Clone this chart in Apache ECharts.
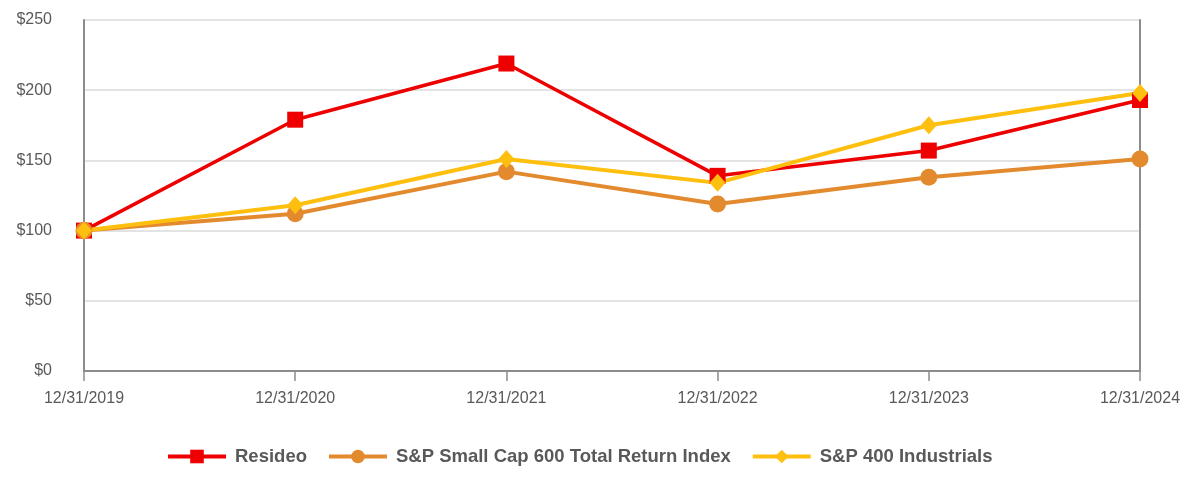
<!DOCTYPE html>
<html><head><meta charset="utf-8">
<script src="https://cdn.jsdelivr.net/npm/echarts@6/dist/echarts.min.js"></script>
<style>html,body{margin:0;padding:0;background:#fff}#c{width:1200px;height:500px}</style>
</head><body><div id="c"></div>
<script>
const categories = ["12/31/2019","12/31/2020","12/31/2021","12/31/2022","12/31/2023","12/31/2024"];
const resideo = [100, 179, 219, 139, 157, 193];
const smallCap600 = [100, 112, 142, 119, 138, 151];
const sp400Industrials = [100, 118, 151, 134, 175, 198];
const yTicks = [0, 50, 100, 150, 200, 250];

const chart = echarts.init(document.getElementById('c'));
const font = 'Liberation Sans, Arial, sans-serif';
const axisGray = '#8c8c8c';
chart.setOption({
  animation: false,
  grid: {left: 84, right: 60, top: 20, bottom: 129},
  legend: {
    top: 442, left: 161, itemWidth: 58, itemHeight: 17, itemGap: 20,
    lineStyle: {width: 4},
    textStyle: {fontFamily: font, fontSize: 18.5, fontWeight: 'bold', color: '#595959', padding: [0, 0, 0, 4]},
    data: ['Resideo', 'S&P Small Cap 600 Total Return Index', 'S&P 400 Industrials']
  },
  xAxis: [{
    type: 'category', data: categories, boundaryGap: false,
    axisLine: {lineStyle: {color: axisGray, width: 2}},
    axisTick: {show: true, length: 10, lineStyle: {color: axisGray, width: 1.5}},
    axisLabel: {fontFamily: font, fontSize: 16, color: '#595959', margin: 20}
  }, {
    type: 'category', data: categories, boundaryGap: false, position: 'top',
    axisLine: {show: true, lineStyle: {color: axisGray, width: 2}},
    axisTick: {show: false}, axisLabel: {show: false}, splitLine: {show: false}
  }],
  yAxis: [{
    type: 'value', min: yTicks[0], max: yTicks[yTicks.length-1], interval: 50,
    axisLine: {show: true, lineStyle: {color: axisGray, width: 2}},
    axisTick: {show: false},
    splitLine: {lineStyle: {color: '#e3e3e3', width: 2}},
    axisLabel: {fontFamily: font, fontSize: 16, color: '#595959', margin: 32, formatter: v => '$' + v}
  }, {
    type: 'value', min: yTicks[0], max: yTicks[yTicks.length-1], interval: 50, position: 'right',
    axisLine: {show: true, lineStyle: {color: axisGray, width: 2}},
    axisTick: {show: false}, axisLabel: {show: false}, splitLine: {show: false}
  }],
  series: [
    {name: 'Resideo', type: 'line', data: resideo, symbol: 'rect', symbolSize: 16,
     lineStyle: {color: '#ee0000', width: 3.5}, itemStyle: {color: '#ee0000'}},
    {name: 'S&P Small Cap 600 Total Return Index', type: 'line', data: smallCap600, symbol: 'circle', symbolSize: 17,
     lineStyle: {color: '#e38a2f', width: 4}, itemStyle: {color: '#e38a2f'}},
    {name: 'S&P 400 Industrials', type: 'line', data: sp400Industrials, symbol: 'diamond', symbolSize: [16, 18],
     lineStyle: {color: '#ffbf0f', width: 4}, itemStyle: {color: '#ffbf0f'}}
  ]
});
</script></body></html>
